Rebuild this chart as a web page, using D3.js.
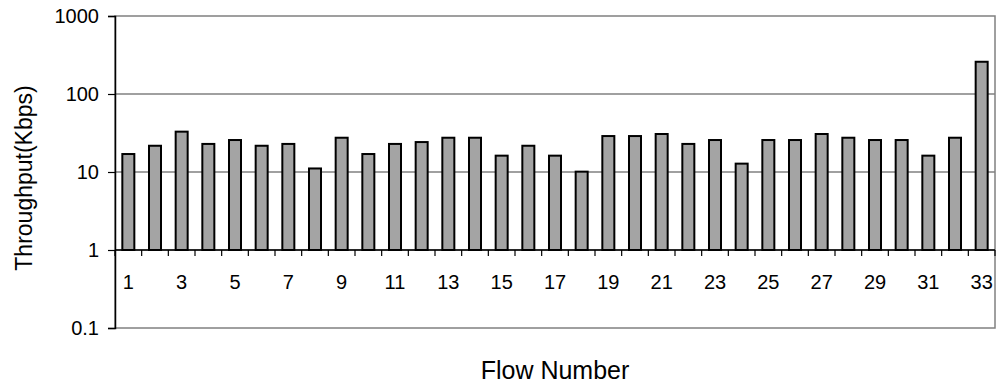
<!DOCTYPE html>
<html>
<head>
<meta charset="utf-8">
<script src="https://cdn.jsdelivr.net/npm/d3@7"></script>
<style>
  body { margin: 0; background: #fff; }
  text { font-family: "Liberation Sans", Arial, sans-serif; fill: #000; }
</style>
</head>
<body>
<div id="chart"></div>
<script>
// flows 1..33 and their throughput (Kbps)
const flows = d3.range(1, 34);
const throughput = [17, 21.7, 32.9, 22.9, 25.7, 21.7, 22.9, 11.1, 27.5, 17,
  22.9, 24.2, 27.5, 27.5, 16.2, 21.7, 16.2, 10.1, 28.9, 28.9,
  30.7, 22.9, 25.7, 12.8, 25.7, 25.7, 30.7, 27.5, 25.7, 25.7,
  16.2, 27.5, 259];
const yTicks = [0.1, 1, 10, 100, 1000];
const xLabels = flows.filter((f) => f % 2 == 1);

const W = 998, H = 390;
const margin = { top: 16, right: 3, bottom: 62, left: 115 };
const width = W - margin.left - margin.right,
  height = H - margin.top - margin.bottom;

const svg = d3.select("#chart").append("svg")
  .attr("width", W).attr("height", H);
const g = svg.append("g")
  .attr("transform", `translate(${margin.left},${margin.top})`);

const x = d3.scaleBand().domain(flows).range([0, width])
  .paddingInner(0.55).paddingOuter(0.275);
const y = d3.scaleLog().domain([0.1, 1000]).range([height, 0]);

// plot border
g.append("rect").attr("width", width).attr("height", height)
  .attr("fill", "none").attr("stroke", "#808080").attr("stroke-width", 1.5);

// gridlines
g.selectAll(".grid").data(yTicks.slice(1, -1)).join("line")
  .attr("x1", 0).attr("x2", width)
  .attr("y1", (d) => y(d)).attr("y2", (d) => y(d))
  .attr("stroke", "#808080").attr("stroke-width", 1.5);

// bars grow from 1 (where the category axis crosses)
const data = flows.map((f, i) => ({ flow: f, value: throughput[i] }));
g.selectAll(".bar").data(data).join("rect")
  .attr("x", (d) => x(d.flow))
  .attr("width", x.bandwidth())
  .attr("y", (d) => y(d.value))
  .attr("height", (d) => y(1) - y(d.value))
  .attr("fill", "#a4a4a4")
  .attr("stroke", "#000").attr("stroke-width", 2);

// y axis
const yAxis = g.append("g")
  .call(d3.axisLeft(y).tickValues(yTicks).tickFormat((d) => String(d))
    .tickSize(7).tickPadding(9));
yAxis.select(".domain").attr("stroke", "#000").attr("stroke-width", 1.5);
yAxis.selectAll(".tick line").attr("stroke", "#000").attr("stroke-width", 1.2);
yAxis.selectAll("text").style("font-size", "20px")
  .style("font-family", "Liberation Sans, Arial, sans-serif");

// category axis at value 1
const step = x.step();
const boundaries = d3.range(flows.length + 1).map((i) => i * step);
const xa = g.append("g").attr("transform", `translate(0,${y(1)})`);
xa.append("line").attr("x1", 0).attr("x2", width)
  .attr("stroke", "#000").attr("stroke-width", 1.5);
xa.selectAll(".tk").data(boundaries).join("line")
  .attr("x1", (d) => d).attr("x2", (d) => d)
  .attr("y1", 0).attr("y2", 6)
  .attr("stroke", "#000").attr("stroke-width", 1.2);
xa.selectAll(".lbl").data(xLabels).join("text")
  .attr("x", (d) => x(d) + x.bandwidth() / 2)
  .attr("y", 39)
  .attr("text-anchor", "middle")
  .style("font-size", "20px")
  .text((d) => d);

// axis titles
svg.append("text")
  .attr("transform", `translate(32,${margin.top + height / 2 + 6}) rotate(-90)`)
  .attr("text-anchor", "middle")
  .style("font-size", "23px")
  .text("Throughput(Kbps)");
svg.append("text")
  .attr("x", 555).attr("y", 379)
  .attr("text-anchor", "middle")
  .style("font-size", "25px")
  .text("Flow Number");
</script>
</body>
</html>
